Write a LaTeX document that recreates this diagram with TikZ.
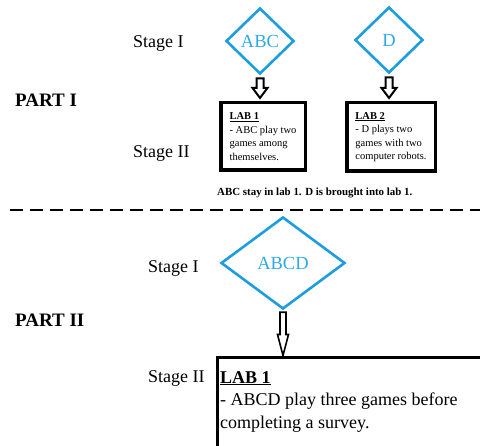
\documentclass[tikz,border=0pt]{standalone}
\usepackage{fontspec}
\setmainfont{Liberation Serif}
\usetikzlibrary{shapes.geometric,calc}
\definecolor{dblue}{RGB}{28,158,222}
\definecolor{tblue}{RGB}{45,170,230}
\tikzset{
  lbl/.style={anchor=base west,inner sep=0pt,font=\fontsize{18}{22}\selectfont},
  partlbl/.style={anchor=base west,inner sep=0pt,font=\fontsize{19}{22}\selectfont\bfseries},
  dia/.style={diamond,draw=dblue,line width=2.6pt,text=tblue,inner sep=0pt,font=\fontsize{18.5}{22}\selectfont},
  labbox/.style={rectangle,draw=black,line width=3.5pt,align=left,inner sep=0pt,outer sep=0pt,font=\fontsize{10.5}{13.5}\selectfont},
  bigbox/.style={rectangle,draw=black,line width=3pt,inner sep=0pt,outer sep=0pt},
  barrow/.style={draw=black,fill=white,line join=miter},
  sep/.style={line width=2.5pt,dash pattern=on 13pt off 7pt}
}
\newcommand{\blockarrow}[6]{%
  \draw[barrow,line width=#6] let \p1=(#1), \p2=(#2) in
   (\x1-#3,\y1) -- (\x1+#3,\y1) -- (\x1+#3,\y2+#5) -- (\x1+#4,\y2+#5) --
   (\x1,\y2) -- (\x1-#4,\y2+#5) -- (\x1-#3,\y2+#5) -- cycle;}
\begin{document}
\begin{tikzpicture}[x=1pt,y=-1pt]
\useasboundingbox (0,0) rectangle (480,446);
\clip (0,0) rectangle (480,446);
% labels
\node[lbl] (s1a) at (133,48) {Stage I};
\node[lbl] (s2a) at (133,158) {Stage II};
\node[partlbl] (p1) at (15,107) {PART I};
\node[lbl] (s1b) at (148,273) {Stage I};
\node[lbl] (s2b) at (148,383) {Stage II};
\node[partlbl] (p2) at (15,327) {PART II};
% part I
\node[dia,minimum width=68pt,minimum height=66pt] (abc) at (260,41) {ABC};
\node[dia,minimum width=68pt,minimum height=66pt] (d) at (389,40) {D};
\node[labbox,minimum width=84.5pt,minimum height=67.5pt] (lab1) at (263,136.5)
  {\underline{\textbf{LAB 1}}\\- ABC play two\\games among\\themselves.};
\node[labbox,minimum width=88.5pt,minimum height=68.5pt] (lab2) at (391,137)
  {\underline{\textbf{LAB 2}}\\- D plays two\\games with two\\computer robots.};
\coordinate (a1s) at ($(abc.south)+(0,3)$);
\coordinate (a1e) at (260,98);
\coordinate (a2s) at ($(d.south)+(0,3)$);
\coordinate (a2e) at (390,98);
\blockarrow{a1s}{a1e}{3.5pt}{7.5pt}{10pt}{2pt}
\blockarrow{a2s}{a2e}{3.5pt}{7.5pt}{10pt}{2pt}
\node[anchor=base west,inner sep=0pt,font=\fontsize{10.9}{12}\selectfont\bfseries] (cap) at (217,196)
  {ABC stay in lab 1. D is brought into lab 1.};
% separator
\coordinate (dl) at (10,210);
\coordinate (dr) at (482,210);
\draw[sep] (dl) -- (dr);
% part II
\node[dia,minimum width=124pt,minimum height=92pt] (abcd) at (283,263) {ABCD};
\node[bigbox,anchor=north west,minimum width=300pt,minimum height=120pt] (lab3) at (217.5,357.5) {};
\node[anchor=north west,inner sep=0pt,align=left,font=\fontsize{18}{22.5}\selectfont] (lab3t) at (220,371)
  {\underline{\textbf{LAB 1}}\\- ABCD play three games before\\completing a survey.};
\coordinate (a3s) at ($(abcd.south)+(0,2)$);
\coordinate (a3e) at ($(lab3.north west)+(66,-2)$);
\blockarrow{a3s}{a3e}{3pt}{5.5pt}{21pt}{1.6pt}
\end{tikzpicture}
\end{document}
